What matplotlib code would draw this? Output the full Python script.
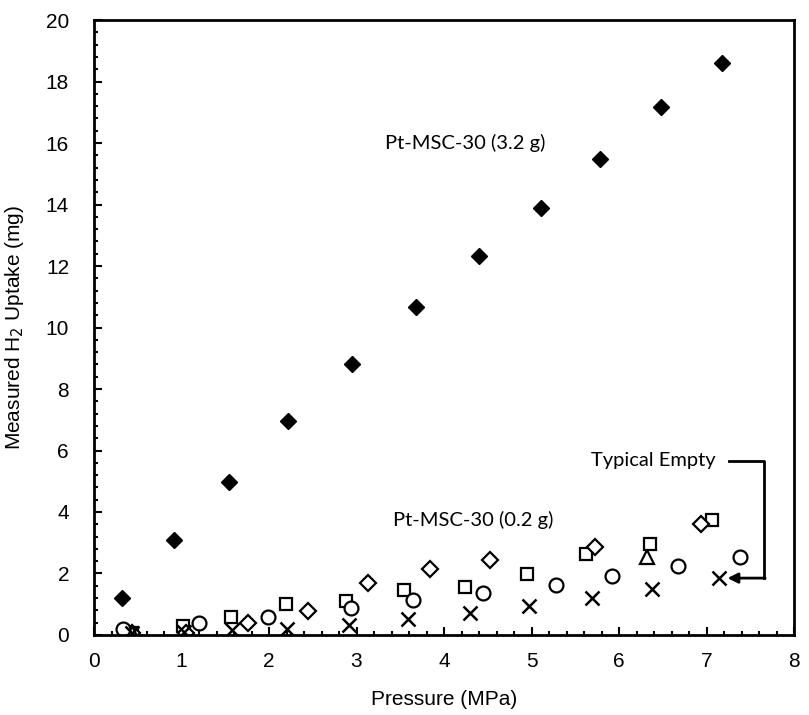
import matplotlib
matplotlib.use("Agg")
import matplotlib.pyplot as plt
from matplotlib.ticker import MultipleLocator

# Pt-MSC-30 (3.2 g), filled diamonds
p_big = [0.32, 0.91, 1.54, 2.22, 2.95, 3.68, 4.40, 5.11, 5.78, 6.48, 7.18]
h_big = [1.2, 3.1, 4.98, 6.96, 8.81, 10.67, 12.33, 13.89, 15.48, 17.17, 18.6]

# Pt-MSC-30 (0.2 g) and empty runs, open markers
p_sq = [0.43, 1.02, 1.57, 2.19, 2.88, 3.54, 4.24, 4.95, 5.62, 6.35, 7.06]
h_sq = [0.05, 0.30, 0.57, 1.00, 1.12, 1.46, 1.55, 1.97, 2.65, 2.95, 3.74]

p_dia = [0.43, 1.05, 1.76, 2.45, 3.13, 3.84, 4.53, 5.73, 6.94]
h_dia = [0.05, 0.06, 0.39, 0.78, 1.69, 2.15, 2.44, 2.86, 3.61]

p_circ = [0.33, 1.20, 1.99, 2.94, 3.65, 4.45, 5.28, 5.92, 6.67, 7.38]
h_circ = [0.20, 0.39, 0.59, 0.87, 1.14, 1.36, 1.62, 1.92, 2.23, 2.55]

p_x = [0.43, 1.03, 1.58, 2.21, 2.91, 3.59, 4.30, 4.97, 5.69, 6.38, 7.14]
h_x = [0.05, 0.10, 0.16, 0.20, 0.33, 0.52, 0.70, 0.93, 1.19, 1.48, 1.85]

p_tri = [0.43, 6.32]
h_tri = [0.05, 2.54]

plt.rcParams['font.family'] = ['Liberation Sans', 'DejaVu Sans']

fig = plt.figure(figsize=(8.09, 7.15), dpi=100)
ax = fig.add_axes([0.1162, 0.1119, 0.8653, 0.8601])

ax.plot(p_sq, h_sq, 's', ms=9, mfc='white', mec='black', mew=1.6, ls='none')
ax.plot(p_dia, h_dia, 'D', ms=8, mfc='white', mec='black', mew=1.6, ls='none')
ax.plot(p_tri, h_tri, '^', ms=10, mfc='white', mec='black', mew=1.6, ls='none')
ax.plot(p_circ, h_circ, 'o', ms=10, mfc='white', mec='black', mew=1.6, ls='none')
ax.plot(p_x, h_x, 'x', ms=10, mec='black', mew=1.8, ls='none')
ax.plot(p_big, h_big, 'D', ms=8.5, color='black', ls='none')

ax.set_xlim(0, 8)
ax.set_ylim(0, 20)
ax.xaxis.set_major_locator(MultipleLocator(1))
ax.xaxis.set_minor_locator(MultipleLocator(0.2))
ax.yaxis.set_major_locator(MultipleLocator(2))
ax.yaxis.set_minor_locator(MultipleLocator(0.4))
ax.tick_params(which='both', direction='in', width=1.5, colors='black',
               labelsize=15, top=False, right=False)
ax.tick_params(axis='x', which='major', length=6, pad=12)
ax.tick_params(axis='y', which='major', length=6, pad=18)
ax.tick_params(which='minor', length=3)
for s in ax.spines.values():
    s.set_linewidth(2)

ax.set_xlabel('Pressure (MPa)', fontsize=15, labelpad=14)
ax.set_ylabel('Measured H$_2$ Uptake (mg)', fontsize=15, labelpad=14)

lab_font = ['Lato', 'DejaVu Sans']
ax.text(4.24, 16.0, 'Pt-MSC-30 (3.2 g)', fontsize=14.5, family=lab_font,
        ha='center', va='center')
ax.text(4.33, 3.74, 'Pt-MSC-30 (0.2 g)', fontsize=14.5, family=lab_font,
        ha='center', va='center')
ax.text(6.39, 5.66, 'Typical Empty', fontsize=14.5, family=lab_font,
        ha='center', va='center')
ax.plot([7.26, 7.66, 7.66], [5.66, 5.66, 1.85], color='black', lw=2)
ax.annotate('', xy=(7.24, 1.85), xytext=(7.67, 1.85),
            arrowprops=dict(arrowstyle='-|>', color='black', lw=2,
                            mutation_scale=15, shrinkA=0, shrinkB=0))

fig.savefig('out.png', dpi=100)
